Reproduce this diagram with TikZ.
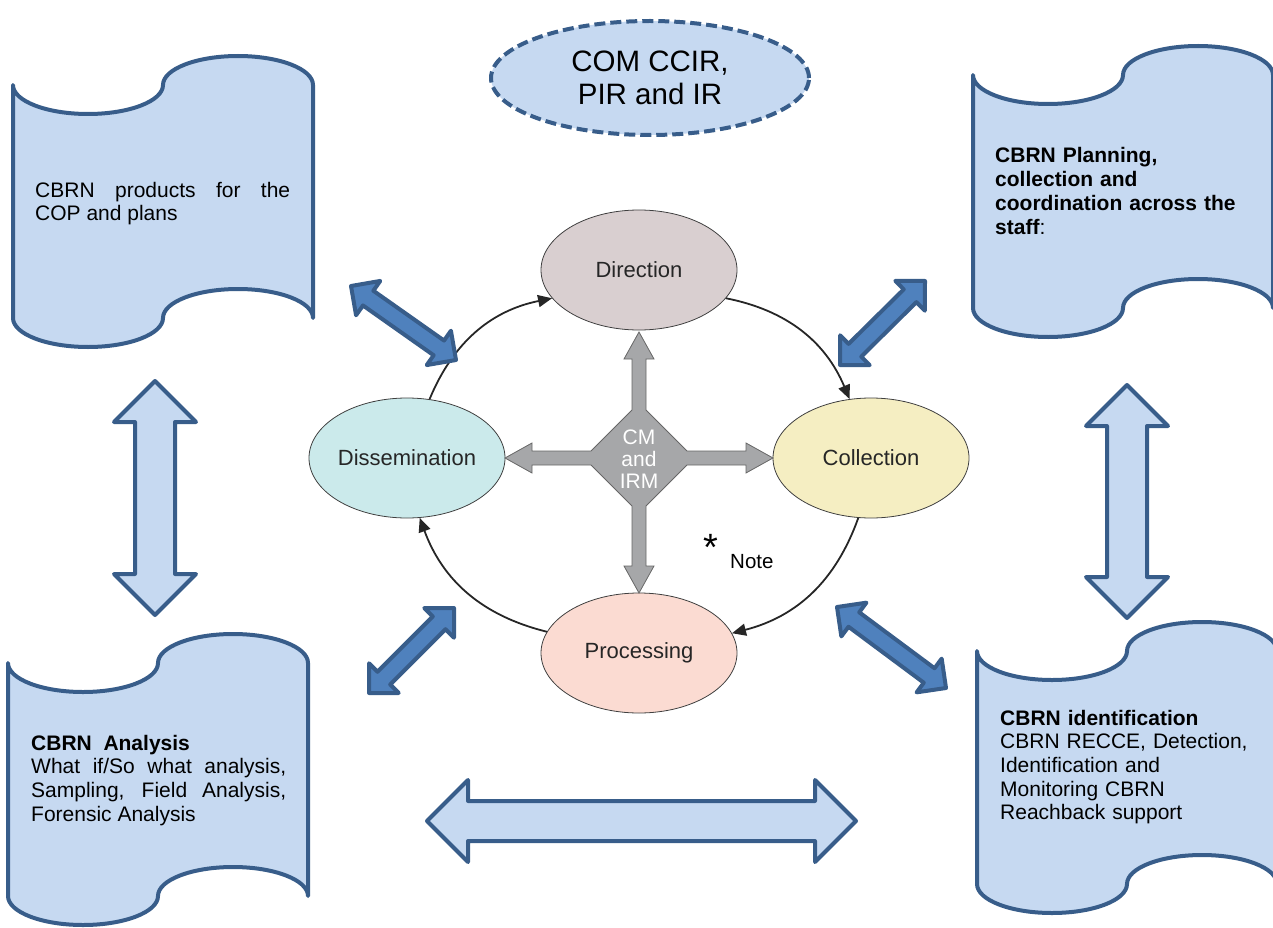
\documentclass[tikz,border=0pt]{standalone}
\usepackage{fontspec}
\setmainfont{Liberation Sans}
\usetikzlibrary{arrows.meta,calc,shapes.geometric}

\definecolor{edgeblue}{HTML}{385D8A}
\definecolor{paleblue}{HTML}{C6D9F1}
\definecolor{midblue}{HTML}{4F81BD}
\definecolor{dirfill}{RGB}{217,207,208}
\definecolor{colfill}{RGB}{245,238,194}
\definecolor{profill}{RGB}{251,219,210}
\definecolor{disfill}{RGB}{203,234,235}
\definecolor{cmgray}{RGB}{166,167,169}

% punched tape, top left corner at (#1,#2)
\newcommand{\tapeshape}[2]{%
    \filldraw[tape] (#1,#2)
        arc[start angle=180,end angle=0,x radius=75,y radius=29]
        arc[start angle=180,end angle=360,x radius=75,y radius=29]
        -- ++(0,233)
        arc[start angle=0,end angle=-180,x radius=75,y radius=29]
        arc[start angle=0,end angle=180,x radius=75,y radius=29] -- cycle;}

% block arrow between two coordinates: style, from, to, head length, head half width, shaft half width
\newcommand{\blockarrow}[6][]{%
    \path ($(#2)!#4!(#3)$) coordinate (ba1) ($(#3)!#4!(#2)$) coordinate (ba2);
    \filldraw[#1] (#2) -- ($(ba1)!#5!90:(#3)$) -- ($(ba1)!#6!90:(#3)$)
        -- ($(ba2)!#6!90:(#3)$) -- ($(ba2)!#5!90:(#3)$) -- (#3)
        -- ($(ba2)!#5!-90:(#3)$) -- ($(ba2)!#6!-90:(#3)$)
        -- ($(ba1)!#6!-90:(#3)$) -- ($(ba1)!#5!-90:(#3)$) -- cycle;}

\begin{document}
\begin{tikzpicture}[x=1pt,y=-1pt,
    tape/.style={draw=edgeblue,fill=paleblue,line width=4pt,line join=round},
    tapetext/.style={inner sep=0pt,anchor=base west,font=\fontsize{21}{23.7}\selectfont},
    phase/.style={ellipse,draw=black!75,line width=0.8pt,inner sep=0pt,minimum width=196pt,minimum height=120pt,
        font=\fontsize{22}{24}\selectfont,text=black!85},
    cycarrow/.style={-{Triangle[length=14pt,width=12pt]},line width=1.8pt,black!85},
    widearrow/.style={draw=edgeblue,fill=paleblue,line width=4pt,line join=round},
    linkarrow/.style={draw=edgeblue,fill=midblue,line width=4pt,line join=round}]
    \useasboundingbox (0,0) rectangle (1273,928);

    % the four tapes
    \tapeshape{13}{85}
    \tapeshape{973}{75}
    \tapeshape{8}{663}
    \tapeshape{977}{651}

    \node[tapetext,text width=255pt,align=justify] (products) at (35,197)
        {CBRN products for the\linebreak COP and plans};
    \node[tapetext,text width=270pt,align=left] (planning) at (995,163)
        {\textbf{CBRN Planning,\\ collection and\\ coordination across the\\ staff}:};
    \node[tapetext,text width=255pt,align=justify] (analysis) at (31,750)
        {\textbf{CBRN\ \ Analysis}\\ What if/So what analysis,\linebreak
        Sampling, Field Analysis,\linebreak Forensic Analysis};
    \node[tapetext,text width=270pt,align=left] (ident) at (1000,725)
        {\textbf{CBRN identification}\\ CBRN RECCE, Detection,\\ Identification and\\
        Monitoring CBRN\\ Reachback support};

    \node[ellipse,draw=edgeblue,fill=paleblue,line width=4pt,dash pattern=on 11pt off 5pt,
        minimum width=318pt,minimum height=114pt,align=center,
        font=\fontsize{29.5}{33}\selectfont] (ccir) at (650,78) {COM CCIR,\\PIR and IR};

    % cycle
    \node[phase,fill=dirfill] (dir) at (639,270) {Direction};
    \node[phase,fill=colfill] (col) at (871,458) {Collection};
    \node[phase,fill=profill] (pro) at (639,653) {Processing};
    \node[phase,fill=disfill] (dis) at (407,458) {Dissemination};

    \draw[cycarrow] (dir.-18) to[bend left=28] (col.110);
    \draw[cycarrow] (col.-102) to[bend left=28] (pro.12);
    \draw[cycarrow] (pro.167) to[bend left=28] (dis.-78);
    \draw[cycarrow] (dis.69) to[bend left=28] (dir.-162);

    % CM and IRM cross
    \filldraw[fill=cmgray,draw=black!60,line width=0.8pt,line join=miter]
        (639,332) -- (654,359) -- (646,359) -- (646,410) -- (687,451) -- (746,451)
        -- (746,443) -- (773,458) -- (746,473) -- (746,465) -- (687,465) -- (646,506)
        -- (646,566) -- (654,566) -- (639,593) -- (624,566) -- (632,566) -- (632,506)
        -- (591,465) -- (532,465) -- (532,473) -- (505,458) -- (532,443) -- (532,451)
        -- (591,451) -- (632,410) -- (632,359) -- (624,359) -- cycle;
    \node[align=center,text=white,inner sep=0pt,font=\fontsize{21}{22}\selectfont] (cm) at (639,459)
        {CM\\and\\IRM};

    \node[inner sep=0pt,anchor=north,font=\fontsize{38}{38}\selectfont] (star) at (711,534) {*};
    \node[inner sep=0pt,anchor=base west,font=\fontsize{20.5}{22}\selectfont] (note) at (730,568) {Note};

    % wide arrows between the tapes
    \coordinate (lt) at (155,381);
    \coordinate (lb) at (155,615);
    \coordinate (rt) at (1127,385);
    \coordinate (rb) at (1127,618);
    \coordinate (bl) at (427,821);
    \coordinate (br) at (856,821);
    \blockarrow[widearrow]{lt}{lb}{41pt}{41pt}{20pt}
    \blockarrow[widearrow]{rt}{rb}{41pt}{41pt}{20pt}
    \blockarrow[widearrow]{bl}{br}{41pt}{41pt}{20pt}

    % links from the tapes to the cycle
    \coordinate (ula) at (351,286);
    \coordinate (ulb) at (456,360);
    \coordinate (ura) at (840,365);
    \coordinate (urb) at (925,281);
    \coordinate (lla) at (369,693);
    \coordinate (llb) at (454,608);
    \coordinate (lra) at (837,607);
    \coordinate (lrb) at (946,688);
    \blockarrow[linkarrow]{ula}{ulb}{21pt}{21pt}{9pt}
    \blockarrow[linkarrow]{ura}{urb}{21pt}{21pt}{9pt}
    \blockarrow[linkarrow]{lla}{llb}{21pt}{21pt}{9pt}
    \blockarrow[linkarrow]{lra}{lrb}{21pt}{21pt}{9pt}
\end{tikzpicture}
\end{document}
